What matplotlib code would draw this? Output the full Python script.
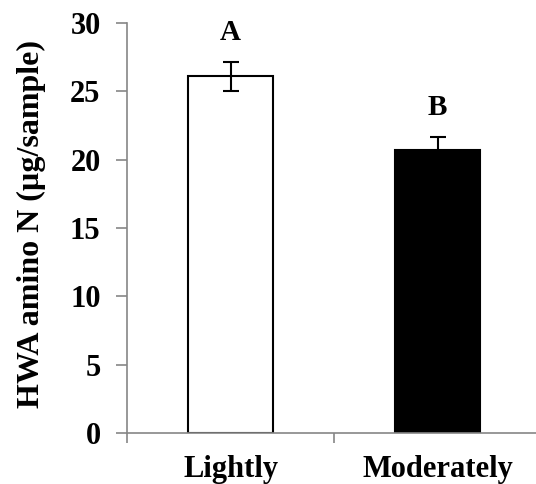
import matplotlib
matplotlib.use("Agg")
import matplotlib.pyplot as plt

categories = ["Lightly", "Moderately"]
values = [26.1, 20.7]
errors = [1.05, 0.95]
letters = ["A", "B"]
colors = ["white", "black"]

plt.rcParams["font.family"] = ["Liberation Serif", "DejaVu Serif"]
plt.rcParams["font.weight"] = "bold"

fig = plt.figure(figsize=(5.36, 4.84), dpi=100)
ax = fig.add_axes([127 / 536, 51 / 484, 414 / 536, 410 / 484])

x = list(range(len(categories)))
ax.bar(x, values, width=0.41, color=colors, edgecolor="black", linewidth=1.5, zorder=2)
ax.errorbar(x, values, yerr=errors, fmt="none", ecolor="black", elinewidth=1.5,
            capsize=6, capthick=1.5, zorder=3)

for xi, v, e, lab in zip(x, values, errors, letters):
    ax.text(xi, v + e + 1.15, lab, ha="center", va="bottom", fontsize=21, fontweight="bold")

ax.set_xlim(-0.5, 1.5)
ax.set_ylim(0, 30)
ax.set_yticks(range(0, 31, 5))
ax.set_xticks(x)
ax.set_xticklabels(categories, fontsize=22, fontweight="bold")
ax.set_xticks([-0.5, 0.5, 1.5], minor=True)
ax.tick_params(axis="x", which="major", length=0, pad=16)
ax.tick_params(axis="x", which="minor", length=7, width=1.2, color="#868686", direction="out")
ax.tick_params(axis="y", length=8, width=1.2, color="#868686", direction="out", labelsize=22, pad=11)
for lab in ax.get_yticklabels():
    lab.set_fontweight("bold")

ax.set_ylabel("HWA amino N (µg/sample)", fontsize=23, fontweight="bold")
ax.yaxis.set_label_coords(-0.196, 0.51)

for side in ["top", "right"]:
    ax.spines[side].set_visible(False)
for side in ["left", "bottom"]:
    ax.spines[side].set_color("#868686")
    ax.spines[side].set_linewidth(1.2)

fig.savefig("out.png", dpi=100)
